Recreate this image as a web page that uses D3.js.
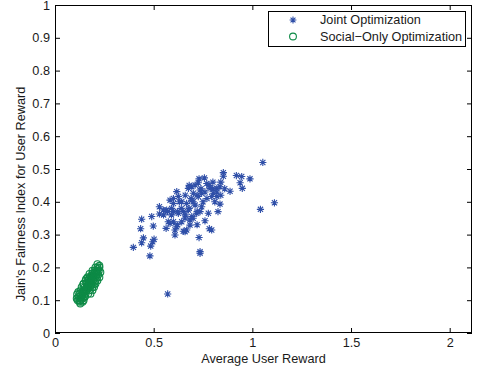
<!DOCTYPE html>
<html>
<head>
<meta charset="utf-8">
<script src="https://cdn.jsdelivr.net/npm/d3@7"></script>
<style>
  html, body { margin: 0; padding: 0; background: #fff; }
  svg { display: block; font-family: "Liberation Sans", Arial, sans-serif; }
</style>
</head>
<body>
<svg id="chart" width="477" height="372"></svg>
<script>
// Joint optimization results: average user reward vs. Jain's fairness index
const jointX = [1.053, 1.112, 1.041, 0.988, 0.949, 0.919, 0.946, 0.938, 0.853, 0.853,
  0.757, 0.887, 0.836, 0.826, 0.777, 0.760, 0.782, 0.794, 0.735, 0.735,
  0.730, 0.571, 0.397, 0.439, 0.448, 0.481, 0.485, 0.495, 0.502, 0.434,
  0.439, 0.490, 0.498, 0.529, 0.529, 0.563, 0.574, 0.600, 0.608, 0.608,
  0.642, 0.667, 0.684, 0.693, 0.566, 0.583, 0.600, 0.617, 0.625, 0.642,
  0.650, 0.676, 0.667, 0.693, 0.701, 0.676, 0.693, 0.710, 0.726, 0.735,
  0.726, 0.743, 0.710, 0.718, 0.786, 0.802, 0.820, 0.820, 0.836, 0.794,
  0.549, 0.591, 0.600, 0.625, 0.659, 0.684, 0.735, 0.743, 0.769, 0.583,
  0.617, 0.659, 0.620, 0.640, 0.660, 0.680, 0.700, 0.720, 0.740, 0.760,
  0.780, 0.800, 0.820, 0.840, 0.860, 0.720, 0.700, 0.570, 0.590, 0.550,
  0.600, 0.630, 0.690, 0.750, 0.770, 0.810, 0.660, 0.680, 0.730, 0.800,
  0.840, 0.620, 0.650, 0.720];
const jointY = [0.520, 0.397, 0.377, 0.470, 0.441, 0.480, 0.477, 0.458, 0.489, 0.478,
  0.473, 0.432, 0.393, 0.370, 0.365, 0.342, 0.318, 0.314, 0.248, 0.243,
  0.291, 0.119, 0.261, 0.275, 0.290, 0.235, 0.265, 0.278, 0.286, 0.318,
  0.347, 0.355, 0.326, 0.385, 0.363, 0.319, 0.339, 0.339, 0.314, 0.299,
  0.339, 0.314, 0.329, 0.355, 0.375, 0.405, 0.395, 0.431, 0.416, 0.400,
  0.370, 0.375, 0.395, 0.405, 0.426, 0.441, 0.446, 0.451, 0.458, 0.436,
  0.416, 0.385, 0.390, 0.365, 0.441, 0.426, 0.441, 0.416, 0.446, 0.416,
  0.375, 0.380, 0.370, 0.365, 0.350, 0.345, 0.370, 0.426, 0.456, 0.334,
  0.324, 0.309, 0.370, 0.380, 0.360, 0.380, 0.400, 0.420, 0.440, 0.430,
  0.450, 0.440, 0.430, 0.420, 0.440, 0.370, 0.350, 0.370, 0.360, 0.360,
  0.410, 0.400, 0.410, 0.400, 0.410, 0.400, 0.420, 0.450, 0.470, 0.460,
  0.460, 0.330, 0.310, 0.330];

// Social-only optimization results
const socialX = [0.125, 0.140, 0.115, 0.130, 0.145, 0.120, 0.135, 0.150,
  0.125, 0.140, 0.155, 0.168, 0.130, 0.145, 0.160, 0.175,
  0.135, 0.150, 0.165, 0.180, 0.190, 0.145, 0.160, 0.172, 0.185, 0.198,
  0.155, 0.168, 0.180, 0.192, 0.205, 0.165, 0.178, 0.190, 0.202, 0.212,
  0.175, 0.188, 0.200, 0.212, 0.190, 0.200, 0.212, 0.222,
  0.205, 0.215, 0.225, 0.215, 0.225, 0.218,
  0.150, 0.158, 0.170, 0.178, 0.185, 0.195, 0.140, 0.162, 0.175, 0.188,
  0.132, 0.148, 0.128, 0.110, 0.122,
  0.225, 0.190, 0.205, 0.215, 0.180, 0.198, 0.230, 0.160, 0.170, 0.182,
  0.195, 0.208, 0.152, 0.140, 0.118,
  0.138, 0.153, 0.167, 0.183, 0.196, 0.210, 0.172, 0.187, 0.143, 0.158,
  0.128, 0.112, 0.200, 0.220];
const socialY = [0.095, 0.095, 0.100, 0.100, 0.100, 0.110, 0.110, 0.110,
  0.120, 0.120, 0.120, 0.120, 0.130, 0.130, 0.130, 0.130,
  0.140, 0.140, 0.140, 0.140, 0.140, 0.150, 0.150, 0.150, 0.150, 0.150,
  0.160, 0.160, 0.160, 0.160, 0.160, 0.170, 0.170, 0.170, 0.170, 0.170,
  0.180, 0.180, 0.180, 0.180, 0.190, 0.190, 0.190, 0.190,
  0.200, 0.200, 0.200, 0.210, 0.205, 0.195,
  0.125, 0.135, 0.145, 0.155, 0.165, 0.175, 0.115, 0.138, 0.158, 0.172,
  0.105, 0.128, 0.090, 0.105, 0.098,
  0.170, 0.130, 0.150, 0.160, 0.120, 0.140, 0.185, 0.142, 0.152, 0.146,
  0.162, 0.178, 0.112, 0.105, 0.125,
  0.125, 0.132, 0.136, 0.155, 0.168, 0.185, 0.165, 0.175, 0.148, 0.165,
  0.112, 0.118, 0.185, 0.178];

const xTicks = [0, 0.5, 1, 1.5, 2];
const yTicks = [0, 0.1, 0.2, 0.3, 0.4, 0.5, 0.6, 0.7, 0.8, 0.9, 1];
const seriesNames = ["Joint Optimization", "Social\u2212Only Optimization"];

const blue = "#2f4fa8";
const green = "#0d8a46";
const fontSize = "12.7px";

const svg = d3.select("#chart");
svg.append("rect").attr("width", 477).attr("height", 372).attr("fill", "#fff");

const x = d3.scaleLinear().domain([0, 2.113]).range([55, 472]);
const y = d3.scaleLinear().domain([0, 1]).range([333, 5]);

// star marker: plus sign and an x sign combined
function starPath(r) {
  const d = r * 0.72;
  return `M0,${-r}V${r}M${-r},0H${r}M${-d},${-d}L${d},${d}M${-d},${d}L${d},${-d}`;
}

// data
const plot = svg.append("g");
plot.selectAll("circle.social")
  .data(d3.zip(socialX, socialY))
  .join("circle")
  .attr("class", "social")
  .attr("cx", d => x(d[0]))
  .attr("cy", d => y(d[1]))
  .attr("r", 3.4)
  .attr("fill", "none")
  .attr("stroke", green)
  .attr("stroke-width", 1.1);

plot.selectAll("path.joint")
  .data(d3.zip(jointX, jointY))
  .join("path")
  .attr("class", "joint")
  .attr("transform", d => `translate(${x(d[0])},${y(d[1])})`)
  .attr("d", starPath(3.6))
  .attr("stroke", blue)
  .attr("stroke-width", 1.1)
  .attr("fill", "none");

// axes with inward ticks on all four sides
const fmt = d => String(d);
function styleAxis(g) {
  g.selectAll("path.domain").remove();
  g.selectAll("line").attr("stroke", "#000");
  g.selectAll("text").attr("fill", "#1a1a1a").style("font-size", fontSize)
    .style("font-family", '"Liberation Sans", Arial, sans-serif');
}
svg.append("g").attr("transform", "translate(0,333)")
  .call(d3.axisBottom(x).tickValues(xTicks).tickFormat(fmt).tickSize(-5).tickPadding(5))
  .call(styleAxis);
svg.append("g").attr("transform", "translate(0,5)")
  .call(d3.axisTop(x).tickValues(xTicks).tickFormat("").tickSize(-5))
  .call(styleAxis);
svg.append("g").attr("transform", "translate(55,0)")
  .call(d3.axisLeft(y).tickValues(yTicks).tickFormat(fmt).tickSize(-5).tickPadding(5))
  .call(styleAxis);
svg.append("g").attr("transform", "translate(472,0)")
  .call(d3.axisRight(y).tickValues(yTicks).tickFormat("").tickSize(-5))
  .call(styleAxis);

svg.append("rect")
  .attr("x", 55.5).attr("y", 5.5)
  .attr("width", 416).attr("height", 327)
  .attr("fill", "none").attr("stroke", "#000").attr("stroke-width", 1);

// axis titles
svg.append("text")
  .attr("x", 263.5).attr("y", 363)
  .attr("text-anchor", "middle")
  .attr("fill", "#1a1a1a")
  .style("font-size", fontSize)
  .text("Average User Reward");
svg.append("text")
  .attr("transform", "translate(20.5,194) rotate(-90)")
  .attr("text-anchor", "middle")
  .attr("dy", "0.35em")
  .attr("fill", "#1a1a1a")
  .style("font-size", fontSize)
  .text("Jain's Fairness Index for User Reward");

// legend
const legend = svg.append("g");
legend.append("rect")
  .attr("x", 268.5).attr("y", 11.5)
  .attr("width", 197).attr("height", 35)
  .attr("fill", "#fff").attr("stroke", "#000").attr("stroke-width", 1);
legend.append("path")
  .attr("transform", "translate(293,20)")
  .attr("d", starPath(3.4))
  .attr("stroke", blue).attr("stroke-width", 1.1).attr("fill", "none");
legend.append("circle")
  .attr("cx", 293).attr("cy", 36.5).attr("r", 3.4)
  .attr("fill", "none").attr("stroke", green).attr("stroke-width", 1.1);
legend.selectAll("text")
  .data(seriesNames)
  .join("text")
  .attr("x", 320)
  .attr("y", (d, i) => 20 + i * 16.5)
  .attr("dy", "0.35em")
  .attr("fill", "#1a1a1a")
  .style("font-size", fontSize)
  .text(d => d);
</script>
</body>
</html>
